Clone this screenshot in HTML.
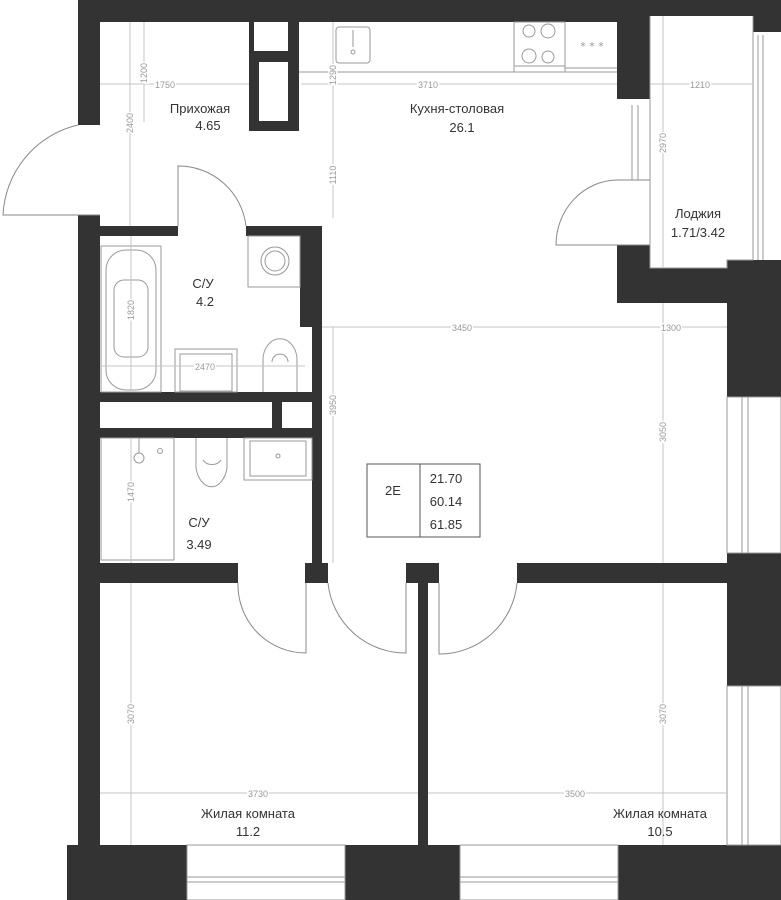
<!DOCTYPE html>
<html><head><meta charset="utf-8"><style>
html,body{margin:0;padding:0;background:#fff}
svg{display:block}
.w{fill:#333}
.d{stroke:#c4c4c4;stroke-width:1;fill:none}
.dt{font-family:"Liberation Sans",sans-serif;font-size:9px;fill:#999}
.l{font-family:"Liberation Sans","Noto Sans CJK SC",sans-serif;font-size:13px;fill:#333;text-anchor:middle}
.f{stroke:#999;stroke-width:1;fill:none}
.a{stroke:#888;stroke-width:1;fill:none}
</style></head><body>
<svg width="781" height="900" viewBox="0 0 781 900" xmlns="http://www.w3.org/2000/svg">
<!-- walls -->
<rect class="w" x="78" y="0" width="703" height="16"/>
<rect class="w" x="78" y="0" width="572" height="22"/>
<rect class="w" x="753" y="0" width="28" height="32"/>
<rect class="w" x="78" y="0" width="22" height="125"/>
<rect class="w" x="78" y="215" width="22" height="630"/>
<rect class="w" x="249" y="22" width="50" height="109"/>
<rect fill="#fff" x="254" y="22" width="34" height="29"/>
<rect fill="#fff" x="259" y="62" width="29" height="59"/>
<rect class="w" x="78" y="226" width="100" height="10"/>
<rect class="w" x="246" y="226" width="76" height="10"/>
<rect class="w" x="300" y="236" width="22" height="91"/>
<rect class="w" x="312" y="236" width="10" height="327"/>
<rect class="w" x="78" y="392" width="244" height="10"/>
<rect class="w" x="272" y="402" width="10" height="26"/>
<rect class="w" x="78" y="428" width="244" height="10"/>
<rect class="w" x="78" y="563" width="160" height="20"/>
<rect class="w" x="305" y="563" width="23" height="20"/>
<rect class="w" x="406" y="563" width="33" height="20"/>
<rect class="w" x="517" y="563" width="210" height="20"/>
<rect class="w" x="418" y="583" width="10" height="262"/>
<rect class="w" x="617" y="16" width="33" height="83"/>
<rect class="w" x="617" y="245" width="33" height="58"/>
<rect class="w" x="617" y="268" width="110" height="35"/>
<rect class="w" x="727" y="260" width="54" height="137"/>
<rect class="w" x="727" y="553" width="54" height="133"/>
<rect class="w" x="67" y="845" width="120" height="55"/>
<rect class="w" x="345" y="845" width="115" height="55"/>
<rect class="w" x="618" y="845" width="163" height="55"/>
<!-- windows -->
<g class="f">
<rect x="187" y="845" width="158" height="55"/>
<line x1="187" y1="877" x2="345" y2="877"/><line x1="187" y1="882" x2="345" y2="882"/>
<rect x="460" y="845" width="158" height="55"/>
<line x1="460" y1="877" x2="618" y2="877"/><line x1="460" y1="882" x2="618" y2="882"/>
<rect x="727" y="397" width="54" height="156"/>
<line x1="742" y1="397" x2="742" y2="553"/><line x1="748" y1="397" x2="748" y2="553"/>
<rect x="727" y="686" width="54" height="159"/>
<line x1="742" y1="686" x2="742" y2="845"/><line x1="748" y1="686" x2="748" y2="845"/>
<line x1="753" y1="32" x2="753" y2="260"/>
<line x1="758" y1="35" x2="758" y2="260"/><line x1="763" y1="35" x2="763" y2="260"/>
<rect x="650" y="99" width="0" height="146"/>
<line x1="632" y1="105" x2="632" y2="180"/><line x1="638" y1="105" x2="638" y2="180"/>
<polyline points="650,16 650,268 727,268 727,260 753,260 753,16"/>
</g>
<!-- doors -->
<g class="a">
<path d="M100,215 L3,215 A97,97 0 0 1 78,125"/>
<path d="M178,226 L178,166 A68,68 0 0 1 246,226"/>
<path d="M306,583 L306,653 A68,68 0 0 1 238,583"/>
<path d="M406,583 L406,653 A78,78 0 0 1 328,583"/>
<path d="M439,583 L439,654 A78,78 0 0 0 517,583"/>
<path d="M650,180 L617,180 A62,65 0 0 0 556,245 L650,245"/>
</g>
<!-- kitchen -->
<g class="f">
<line x1="299" y1="72" x2="617" y2="72"/>
<rect x="336" y="27" width="34" height="36" rx="3"/>
<line x1="353" y1="30" x2="353" y2="47"/><circle cx="353" cy="52" r="2"/>
<rect x="514" y="22" width="51" height="50"/>
<line x1="514" y1="66" x2="565" y2="66"/>
<circle cx="529" cy="31" r="6"/><circle cx="548" cy="31" r="7"/>
<circle cx="529" cy="56" r="7"/><circle cx="548" cy="57" r="6"/>
<line x1="565" y1="68" x2="617" y2="68"/>
</g>
<text x="592" y="50" font-family="DejaVu Sans" font-size="11" fill="#999" text-anchor="middle">* * *</text>
<!-- bath1 -->
<g class="f">
<rect x="101" y="246" width="60" height="146"/>
<rect x="106" y="250" width="50" height="140" rx="20"/>
<rect x="114" y="280" width="34" height="77" rx="10"/>
<rect x="175" y="349" width="62" height="43"/>
<rect x="180" y="354" width="52" height="37"/>
<rect x="248" y="236" width="52" height="51"/>
<circle cx="275" cy="261" r="14"/><circle cx="275" cy="261" r="10"/>
<path d="M263,392 L263,360 A16,20 0 0 1 297,360 L297,392"/>
<path d="M272,362 A8,8 0 0 1 288,362"/>
<rect x="101" y="438" width="73" height="122"/>
<circle cx="139" cy="458" r="5"/><circle cx="160" cy="451" r="2.5"/>
<line x1="139" y1="438" x2="139" y2="453"/>
<path d="M196,438 L196,468 A16,25 0 0 0 227,468 L227,438"/>
<path d="M203,460 A10,8 0 0 0 221,460"/>
<rect x="244" y="438" width="68" height="42"/>
<rect x="250" y="441" width="56" height="35"/>
<circle cx="278" cy="456" r="2"/>
</g>
<!-- dimensions -->
<g class="d">
<line x1="144" y1="22" x2="144" y2="122"/><line x1="130" y1="22" x2="130" y2="226"/>
<line x1="100" y1="84" x2="249" y2="84"/><line x1="301" y1="84" x2="617" y2="84"/>
<line x1="650" y1="84" x2="753" y2="84"/><line x1="333" y1="22" x2="333" y2="218"/>
<line x1="663" y1="16" x2="663" y2="268"/><line x1="131" y1="236" x2="131" y2="392"/>
<line x1="101" y1="366" x2="305" y2="366"/><line x1="131" y1="438" x2="131" y2="563"/>
<line x1="333" y1="327" x2="333" y2="563"/><line x1="322" y1="327" x2="727" y2="327"/>
<line x1="663" y1="303" x2="663" y2="563"/><line x1="131" y1="583" x2="131" y2="845"/>
<line x1="663" y1="583" x2="663" y2="845"/><line x1="100" y1="793" x2="418" y2="793"/>
<line x1="428" y1="793" x2="727" y2="793"/>
</g>
<g class="dt">
<text x="165" y="88" text-anchor="middle" fill="#999" style="paint-order:stroke" stroke="#fff" stroke-width="3">1750</text>
<text x="428" y="88" text-anchor="middle" stroke="#fff" stroke-width="3" style="paint-order:stroke">3710</text>
<text x="700" y="88" text-anchor="middle" stroke="#fff" stroke-width="3" style="paint-order:stroke">1210</text>
<text x="462" y="331" text-anchor="middle" stroke="#fff" stroke-width="3" style="paint-order:stroke">3450</text>
<text x="671" y="331" text-anchor="middle" stroke="#fff" stroke-width="3" style="paint-order:stroke">1300</text>
<text x="205" y="370" text-anchor="middle" stroke="#fff" stroke-width="3" style="paint-order:stroke">2470</text>
<text x="258" y="797" text-anchor="middle" stroke="#fff" stroke-width="3" style="paint-order:stroke">3730</text>
<text x="575" y="797" text-anchor="middle" stroke="#fff" stroke-width="3" style="paint-order:stroke">3500</text>
<g stroke="#fff" stroke-width="3" style="paint-order:stroke" text-anchor="middle">
<text transform="translate(147,73) rotate(-90)">1200</text>
<text transform="translate(133,123) rotate(-90)">2400</text>
<text transform="translate(336,75) rotate(-90)">1290</text>
<text transform="translate(336,175) rotate(-90)">1110</text>
<text transform="translate(666,143) rotate(-90)">2970</text>
<text transform="translate(134,310) rotate(-90)">1820</text>
<text transform="translate(134,492) rotate(-90)">1470</text>
<text transform="translate(336,405) rotate(-90)">3950</text>
<text transform="translate(666,432) rotate(-90)">3050</text>
<text transform="translate(134,714) rotate(-90)">3070</text>
<text transform="translate(666,714) rotate(-90)">3070</text>
</g>
</g>
<!-- labels -->
<text class="l" x="200" y="113">Прихожая</text><text class="l" x="208" y="130">4.65</text>
<text class="l" x="457" y="113">Кухня-столовая</text><text class="l" x="462" y="132">26.1</text>
<text class="l" x="698" y="218">Лоджия</text><text class="l" x="698" y="237">1.71/3.42</text>
<text class="l" x="203" y="288">С/У</text><text class="l" x="205" y="306">4.2</text>
<text class="l" x="199" y="527">С/У</text><text class="l" x="199" y="549">3.49</text>
<text class="l" x="248" y="818">Жилая комната</text><text class="l" x="248" y="836">11.2</text>
<text class="l" x="660" y="818">Жилая комната</text><text class="l" x="660" y="836">10.5</text>
<!-- info box -->
<rect x="367" y="464" width="113" height="73" fill="none" stroke="#555"/>
<line x1="420" y1="464" x2="420" y2="537" stroke="#555"/>
<text class="l" x="393" y="495" font-size="14">2E</text>
<text class="l" x="446" y="483" font-size="14">21.70</text>
<text class="l" x="446" y="506" font-size="14">60.14</text>
<text class="l" x="446" y="529" font-size="14">61.85</text>
</svg>
</body></html>
